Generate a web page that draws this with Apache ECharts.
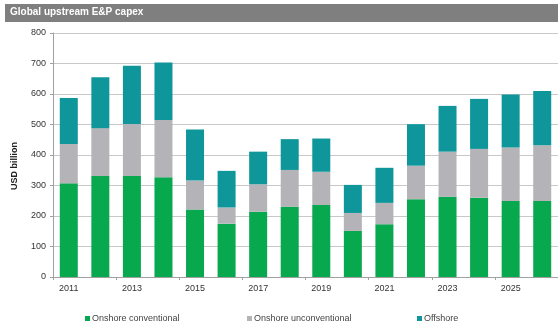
<!DOCTYPE html>
<html>
<head>
<meta charset="utf-8">
<script src="https://cdn.jsdelivr.net/npm/echarts@6/dist/echarts.min.js"></script>
<style>
  html, body { margin: 0; padding: 0; background: #fff; }
  #chart { width: 558px; height: 329px; }
</style>
</head>
<body>
<div id="chart"></div>
<script>
const years = ["2011", "2012", "2013", "2014", "2015", "2016", "2017", "2018", "2019", "2020", "2021", "2022", "2023", "2024", "2025", "2026"]
const onshoreConventional = [307, 331, 331, 327, 221, 175, 214, 230, 236, 151, 173, 255, 263, 260, 249, 249]
const onshoreUnconventional = [129, 157, 171, 188, 95, 53, 90, 121, 109, 59, 70, 110, 148, 160, 176, 183]
const offshore = [151, 167, 191, 188, 168, 120, 107, 101, 109, 92, 115, 136, 150, 164, 173, 178]
const yTicks = [0, 100, 200, 300, 400, 500, 600, 700, 800]

const chart = echarts.init(document.getElementById("chart"))

const font = "Liberation Sans, Arial, sans-serif"

const option = {
  animation: false,
  textStyle: { fontFamily: font },
  graphic: [
    {
      type: "rect",
      shape: { x: 5, y: 4, width: 553, height: 18 },
      style: { fill: "#7f7f7f" },
    },
    {
      type: "text",
      left: 10,
      top: 7,
      style: {
        text: "Global upstream E&P capex",
        fill: "#fff",
        font: "bold 10px " + font,
      },
    },
    {
      // y axis title sits a little below the axis centre in the original
      type: "text",
      x: 15,
      y: 166,
      rotation: Math.PI / 2,
      style: {
        text: "USD billion",
        fill: "#222",
        font: "bold 9px " + font,
        align: "center",
        verticalAlign: "middle",
      },
    },
  ],
  legend: [
    { data: ["Onshore conventional"], left: 80 },
    { data: ["Onshore unconventional"], left: 242 },
    { data: ["Offshore"], left: 412 },
  ].map((l) => ({
    ...l,
    top: 309,
    icon: "rect",
    itemWidth: 5,
    itemHeight: 5,
    itemGap: 2,
    textStyle: { fontSize: 9, color: "#444", fontFamily: font, padding: [0, 0, 0, -3] },
  })),
  grid: {
    left: 53,
    right: -15,
    top: 33,
    bottom: 52,
  },
  xAxis: {
    type: "category",
    data: years,
    axisLine: { lineStyle: { color: "#a0a0a0" } },
    axisTick: { show: true, length: 3, lineStyle: { color: "#a0a0a0" } },
    axisLabel: {
      interval: 1,
      color: "#333",
      fontSize: 9,
      margin: 7,
    },
  },
  yAxis: {
    type: "value",
    min: yTicks[0],
    max: yTicks[yTicks.length - 1],
    interval: 100,
    axisLine: { show: true, lineStyle: { color: "#a0a0a0" } },
    axisTick: { show: true, length: 3, lineStyle: { color: "#a0a0a0" } },
    axisLabel: { color: "#333", fontSize: 9, margin: 7 },
    splitLine: { lineStyle: { color: "#c8c8c8" } },
  },
  series: [
    { name: "Onshore conventional", data: onshoreConventional, color: "#08a84e" },
    { name: "Onshore unconventional", data: onshoreUnconventional, color: "#b4b3b8" },
    { name: "Offshore", data: offshore, color: "#0e969b" },
  ].map((s) => ({
    ...s,
    type: "bar",
    stack: "capex",
    barWidth: 18,
  })),
}

chart.setOption(option)
</script>
</body>
</html>
